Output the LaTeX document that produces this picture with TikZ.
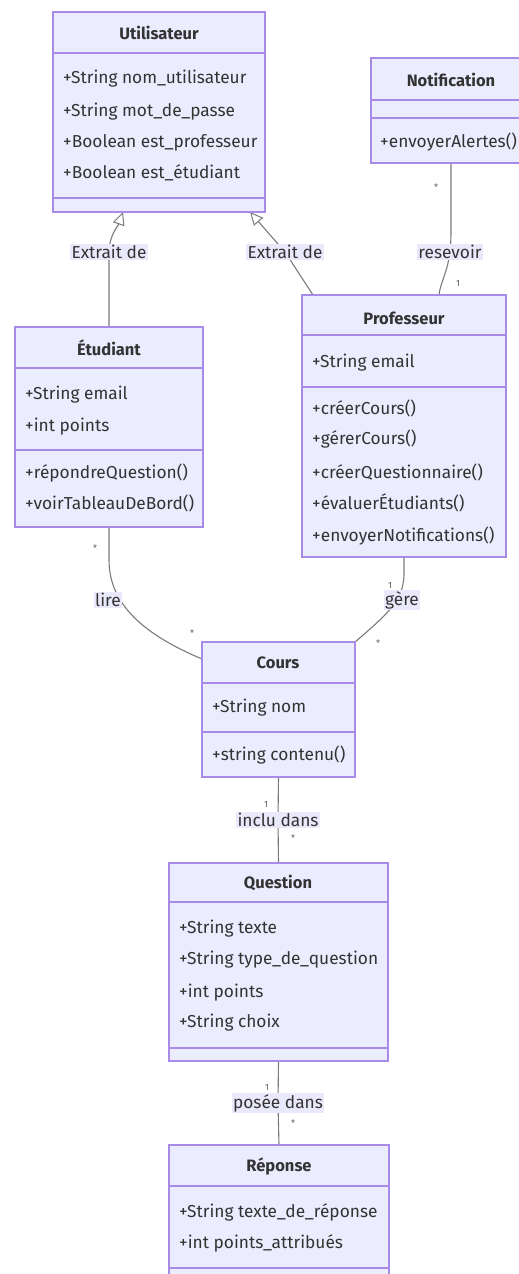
\documentclass[tikz,border=0pt]{standalone}
\usepackage{fontspec}
\setmainfont{Fira Sans}
\usetikzlibrary{arrows.meta,backgrounds}
\definecolor{boxfill}{HTML}{ECECFF}
\definecolor{boxline}{HTML}{A78BE6}
\definecolor{txt}{HTML}{333333}
\definecolor{edgecol}{HTML}{7A7A7A}
\definecolor{lblbg}{HTML}{E9E9FB}
\begin{document}
\begin{tikzpicture}[x=1pt,y=-1pt,
  classbox/.style={draw=boxline, fill=boxfill, line width=1.5pt, anchor=north west, inner sep=0pt, outer sep=0pt},
  sepline/.style={draw=boxline, line width=1.5pt},
  cname/.style={text=txt, font=\fontsize{16.5}{18}\selectfont\bfseries, inner sep=0pt},
  member/.style={text=txt, font=\fontsize{17.3}{19}\selectfont, anchor=west, inner sep=0pt},
  elabel/.style={fill=lblbg, text=txt, font=\fontsize{17.3}{19}\selectfont, inner sep=1.5pt},
  mult/.style={text=txt!80, font=\fontsize{9}{10}\selectfont, inner sep=0pt},
  edgeline/.style={draw=edgecol, line width=1.1pt},
  inherit/.style={edgeline, -{Triangle[open, length=13pt, width=12pt, line width=1pt]}}
]
\useasboundingbox (0,0) rectangle (519,1274);
\clip (0,0) rectangle (519,1274);

% ---------- Utilisateur
\node[classbox, minimum width=212pt, minimum height=200pt] (util) at (53,12) {};
\draw[sepline] (53,53) -- (265,53);
\draw[sepline] (53,198) -- (265,198);
\node[cname] (utilT) at (159,33) {Utilisateur};
\node[member] (utilA) at (63,79) {+String nom\_utilisateur};
\node[member] (utilB) at (63,112) {+String mot\_de\_passe};
\node[member] (utilC) at (63,143) {+Boolean est\_professeur};
\node[member] (utilD) at (63,173) {+Boolean est\_étudiant};

% ---------- Notification
\node[classbox, minimum width=160pt, minimum height=105pt] (notif) at (371,58) {};
\draw[sepline] (371,100) -- (531,100);
\draw[sepline] (371,118) -- (531,118);
\node[cname] (notifT) at (451,80) {Notification};
\node[member] (notifM) at (380,142) {+envoyerAlertes()};

% ---------- Etudiant
\node[classbox, minimum width=188pt, minimum height=200pt] (etud) at (15,327) {};
\draw[sepline] (15,368) -- (203,368);
\draw[sepline] (15,450) -- (203,450);
\node[cname] (etudT) at (109,348) {Étudiant};
\node[member] (etudA) at (25,395) {+String email};
\node[member] (etudB) at (25,427) {+int points};
\node[member] (etudM) at (25,473) {+répondreQuestion()};
\node[member] (etudN) at (25,503) {+voirTableauDeBord()};

% ---------- Professeur
\node[classbox, minimum width=204pt, minimum height=262pt] (prof) at (302,295) {};
\draw[sepline] (302,335) -- (506,335);
\draw[sepline] (302,387) -- (506,387);
\node[cname] (profT) at (404,318) {Professeur};
\node[member] (profA) at (312,363) {+String email};
\node[member] (profM) at (312,408) {+créerCours()};
\node[member] (profN) at (312,439) {+gérerCours()};
\node[member] (profO) at (312,472) {+créerQuestionnaire()};
\node[member] (profP) at (312,503) {+évaluerÉtudiants()};
\node[member] (profQ) at (312,536) {+envoyerNotifications()};

% ---------- Cours
\node[classbox, minimum width=153pt, minimum height=135pt] (cours) at (202,642) {};
\draw[sepline] (202,683) -- (355,683);
\draw[sepline] (202,732) -- (355,732);
\node[cname] (coursT) at (278,663) {Cours};
\node[member] (coursA) at (212,708) {+String nom};
\node[member] (coursM) at (212,755) {+string contenu()};

% ---------- Question
\node[classbox, minimum width=219pt, minimum height=198pt] (quest) at (169,863) {};
\draw[sepline] (169,902) -- (388,902);
\draw[sepline] (169,1048) -- (388,1048);
\node[cname] (questT) at (278,883) {Question};
\node[member] (questA) at (179,929) {+String texte};
\node[member] (questB) at (179,960) {+String type\_de\_question};
\node[member] (questC) at (179,993) {+int points};
\node[member] (questD) at (179,1023) {+String choix};

% ---------- Reponse
\node[classbox, minimum width=220pt, minimum height=150pt] (rep) at (169,1145) {};
\draw[sepline] (169,1186) -- (389,1186);
\draw[sepline] (169,1268) -- (389,1268);
\node[cname] (repT) at (279,1166) {Réponse};
\node[member] (repA) at (179,1212) {+String texte\_de\_réponse};
\node[member] (repB) at (179,1243) {+int points\_attribués};

% ---------- edge labels
\node[elabel] (lExtA) at (109,252) {Extrait de};
\node[elabel] (lExtB) at (285,252) {Extrait de};
\node[elabel] (lRes) at (450,252) {resevoir};
\node[elabel] (lLire) at (108,600) {lire};
\node[elabel] (lGere) at (402,600) {gère};
\node[elabel] (lInclu) at (278,820) {inclu dans};
\node[elabel] (lPosee) at (278,1103) {posée dans};

% ---------- multiplicities
\node[mult] (m1) at (436,187) {*};
\node[mult] (m2) at (458,283) {1};
\node[mult] (m3) at (95,548) {*};
\node[mult] (m4) at (192,633) {*};
\node[mult] (m5) at (390,585) {1};
\node[mult] (m6) at (378,643) {*};
\node[mult] (m7) at (266,804) {1};
\node[mult] (m8) at (293,838) {*};
\node[mult] (m9) at (267,1087) {1};
\node[mult] (m10) at (293,1123) {*};

% ---------- connectors
\begin{scope}[on background layer]
\draw[inherit] (etud.north) -- (lExtA.center) .. controls (109,236) and (118,226) .. (123,212);
\draw[inherit] (prof.north west) ++(11,0) -- (lExtB.center) -- (250,212);
\draw[edgeline] (notif.south) -- (451,232) .. controls (451,270) and (441,278) .. (439,295);
\draw[edgeline] (etud.south) -- (109,560) .. controls (109,605) and (145,635) .. (cours.west |- 0,659);
\draw[edgeline] (prof.south) -- (404,575) .. controls (403,600) and (390,612) .. (cours.north east);
\draw[edgeline] (cours.south) -- (lInclu.center) -- (quest.north);
\draw[edgeline] (quest.south) -- (lPosee.center) -- (rep.north);
\end{scope}
\end{tikzpicture}
\end{document}
